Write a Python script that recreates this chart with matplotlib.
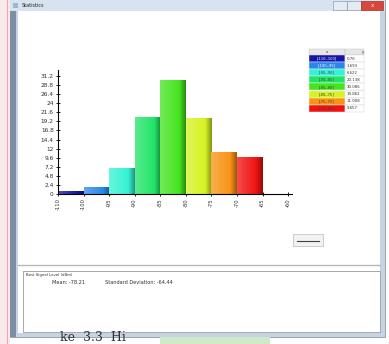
import matplotlib
matplotlib.use("Agg")
import matplotlib.pyplot as plt
from matplotlib.patches import Rectangle
from matplotlib.colors import to_rgb
import numpy as np

# Data (share of samples per signal level bin, %)
bins = ["[-110,-100]", "[-100,-95]", "[-95,-90]", "[-90,-85]",
        "[-85,-80]", "[-80,-75]", "[-75,-70]", "[-70,-65]"]
shares = [0.76, 1.693, 6.622, 20.138, 30.086, 19.862, 11.008, 9.657]
share_labels = ["0.76", "1.693", "6.622", "20.138", "30.086", "19.862", "11.008", "9.657"]
edge_labels = ["-110", "-100", "-95", "-90", "-85", "-80", "-75", "-70", "-65", "-60"]
bar_colors = ["#1414a8", "#2c86e8", "#34f2d4", "#22e468", "#44e41e",
              "#d6f222", "#f89414", "#f01212"]
y_ticks = np.round(np.arange(0, 31.3, 2.4), 1)
mean_text = "Mean: -78.21"
std_text = "Standard Deviation: -64.44"

fig = plt.figure(figsize=(3.89, 3.44), dpi=100)

# window chrome drawn in pixel coordinates
bg = fig.add_axes([0, 0, 1, 1])
bg.set_xlim(0, 389)
bg.set_ylim(344, 0)
bg.axis("off")

bg.add_patch(Rectangle((0, 0), 389, 344, fc="white", ec="none"))
bg.add_patch(Rectangle((0, 0), 10, 344, fc="#fbeaec", ec="none"))
bg.plot([7, 7], [0, 344], color="#f2a6aa", lw=0.8)
bg.add_patch(Rectangle((10, 0), 375, 337, fc="#c6d3e4", ec="#8f9aaa", lw=0.6))
bg.add_patch(Rectangle((10, 8), 6, 329, fc="#7f8ea3", ec="none"))
bg.add_patch(Rectangle((10, 0), 375, 11, fc="#d8e3f0", ec="none"))
bg.text(22, 5.5, "Statistics", fontsize=3.5, va="center", color="#202020")
bg.add_patch(Rectangle((13, 2.5), 5, 5, fc="#9fb6d4", ec="none"))
bg.add_patch(Rectangle((333, 1), 14, 9, fc="#e4ebf3", ec="#8f9aaa", lw=0.5))
bg.add_patch(Rectangle((347, 1), 14, 9, fc="#e4ebf3", ec="#8f9aaa", lw=0.5))
bg.add_patch(Rectangle((361, 1), 22, 9, fc="#d9473a", ec="#8f3a30", lw=0.5))
bg.text(372, 5.5, "x", fontsize=4, color="white", ha="center", va="center")
bg.add_patch(Rectangle((18, 11), 362, 322, fc="white", ec="none"))

# separator and bottom info box
bg.plot([18, 380], [265, 265], color="#b8b8b8", lw=1)
bg.add_patch(Rectangle((23, 271), 357, 61, fc="white", ec="#9a9a9a", lw=0.6))
bg.text(26, 275, "Best Signal Level (dBm)", fontsize=2.8, va="center", color="#303030")
bg.text(52, 282, mean_text, fontsize=3.6, va="center", color="#303030")
bg.text(105, 282, std_text, fontsize=3.6, va="center", color="#303030")

# small button
bg.add_patch(Rectangle((293, 234), 30, 12, fc="#f2f2f2", ec="#c4c4c4", lw=0.6))
bg.plot([297, 319], [240.5, 240.5], color="#404040", lw=0.8)

# colour key table
row_h = 7.1
bg.add_patch(Rectangle((309, 49), 36, 6, fc="#e6e6e6", ec="#bcbcbc", lw=0.3))
bg.add_patch(Rectangle((345, 49), 19, 6, fc="#e6e6e6", ec="#bcbcbc", lw=0.3))
bg.text(327, 52, "x", fontsize=2.8, ha="center", va="center", color="#303030")
bg.text(363, 52, "y", fontsize=2.8, ha="center", va="center", color="#303030")
for i, (lab, val, col) in enumerate(zip(bins, share_labels, bar_colors)):
    y0 = 55 + i * row_h
    bg.add_patch(Rectangle((309, y0), 36, row_h, fc=col, ec="#ffffff", lw=0.3))
    bg.add_patch(Rectangle((345, y0), 19, row_h, fc="white", ec="#d0d0d0", lw=0.3))
    tc = "white" if i < 2 else "#404040"
    bg.text(327, y0 + row_h / 2, lab, fontsize=2.6, ha="center", va="center", color=tc)
    bg.text(346.5, y0 + row_h / 2, val, fontsize=2.8, va="center", color="#303030")

# document text showing under the window
bg.add_patch(Rectangle((160, 337), 110, 7, fc="#cfe8c8", ec="none"))
bg.text(60, 344, "ke  3.3  Hi", fontsize=9, family="DejaVu Serif", color="#303030", va="bottom")

# histogram
ax = fig.add_axes([58 / 389, 1 - 194 / 344, 234 / 389, 124 / 344])
ax.patch.set_alpha(0)
x = np.arange(len(shares))
ax.bar(x, shares, width=1, align="edge", color=bar_colors, edgecolor="none")
ramp = np.linspace(0, 1, 40)
for xi, h, col in zip(x, shares, bar_colors):
    base = np.array(to_rgb(col))
    light = base + (1 - base) * 0.25
    dark = base * 0.62
    shade = np.where(ramp < 0.75, 1 - ramp / 0.75, 0)[:, None] * light \
        + np.where(ramp < 0.75, ramp / 0.75, 0)[:, None] * base
    tail = np.clip((ramp - 0.75) / 0.25, 0, 1)[:, None]
    shade = np.where(ramp[:, None] < 0.75, shade, (1 - tail) * base + tail * dark)
    ax.imshow(shade[None, :, :], extent=(xi, xi + 1, 0, h), aspect="auto",
              interpolation="bilinear", zorder=2)

ax.set_xlim(0, 9.15)
ax.set_ylim(0, 32.8)
ax.set_xticks(np.arange(len(edge_labels)))
ax.set_xticklabels(edge_labels, rotation=90, fontsize=3.8, color="#303030")
ax.set_yticks(y_ticks)
ax.set_yticklabels(["%g" % v for v in y_ticks], fontsize=4.2, color="#303030")
ax.tick_params(direction="inout", length=3, width=0.6, pad=1.5)
for side in ["top", "right"]:
    ax.spines[side].set_visible(False)
for side in ["left", "bottom"]:
    ax.spines[side].set_linewidth(0.8)

plt.savefig("out.png", dpi=100)
